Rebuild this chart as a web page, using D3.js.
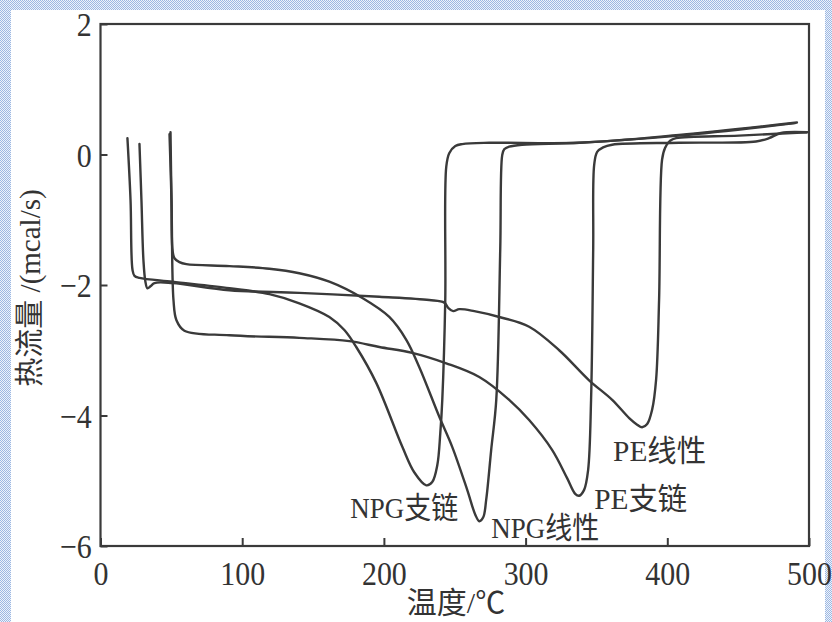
<!DOCTYPE html>
<html>
<head>
<meta charset="utf-8">
<script src="https://cdn.jsdelivr.net/npm/d3@7"></script>
<style>
  html, body { margin: 0; padding: 0; background: #fff; }
  svg { display: block; }
</style>
</head>
<body>
<svg id="chart" width="832" height="622"></svg>
<script>
// DSC curves: heat flow (mcal/s) against temperature (°C) for four samples

const xTicks = [0, 100, 200, 300, 400, 500];
const yTicks = [2, 0, -2, -4, -6];
const xTitle = "温度/℃";
const yTitle = "热流量 /(mcal/s)";

const seriesNames = ["NPG支链", "NPG线性", "PE支链", "PE线性"];

// NPG支链
const tempNpgBranched = [19.0, 21.2, 22.6, 24.0, 27.5, 50.8, 91.0, 119.2, 140.3, 161.5, 172.1, 180.5, 194.6, 213.0, 221.4, 229.9, 234.1, 237.7, 239.8, 241.2, 243.3, 244.0, 246.1, 250.4, 255.3, 274.3, 337.8, 408.3, 491.5];
const flowNpgBranched = [0.25, -0.70, -1.77, -1.86, -1.89, -1.95, -2.05, -2.14, -2.28, -2.49, -2.69, -2.95, -3.50, -4.48, -4.87, -5.07, -5.02, -4.76, -4.27, -3.76, -2.23, -0.19, 0.02, 0.13, 0.16, 0.18, 0.18, 0.30, 0.49];

// NPG线性
const tempNpgLinear = [49.4, 50.1, 50.8, 52.2, 55.7, 60.6, 91.0, 119.2, 140.3, 161.5, 184.8, 203.8, 215.8, 225.0, 239.1, 248.2, 258.8, 264.5, 267.3, 270.1, 272.2, 275.7, 279.3, 282.1, 283.5, 284.9, 288.4, 297.6, 337.8, 408.3, 490.1];
const flowNpgLinear = [0.34, -0.70, -1.46, -1.59, -1.65, -1.68, -1.71, -1.75, -1.82, -1.95, -2.20, -2.49, -2.84, -3.26, -4.02, -4.48, -5.14, -5.52, -5.62, -5.56, -5.29, -4.53, -3.76, -1.46, -0.01, 0.08, 0.12, 0.15, 0.18, 0.29, 0.48];

// PE支链
const tempPeBranched = [48.7, 50.1, 51.5, 53.6, 59.2, 91.0, 140.3, 175.6, 196.8, 220.0, 244.0, 267.3, 288.4, 302.5, 318.8, 329.3, 335.0, 337.8, 341.3, 344.1, 346.2, 347.7, 348.4, 350.5, 354.7, 361.1, 408.3, 462.6, 471.8, 480.3, 498.6];
const flowPeBranched = [0.31, -0.70, -2.23, -2.54, -2.70, -2.77, -2.81, -2.86, -2.95, -3.04, -3.20, -3.41, -3.76, -4.07, -4.53, -4.96, -5.20, -5.23, -5.14, -4.84, -3.76, -1.46, -0.16, 0.04, 0.11, 0.15, 0.18, 0.20, 0.25, 0.33, 0.34];

// PE线性
const tempPeLinear = [27.5, 28.9, 30.3, 31.7, 33.1, 35.3, 38.1, 50.8, 91.0, 140.3, 196.8, 232.0, 242.6, 245.4, 248.9, 253.2, 263.8, 281.4, 302.5, 323.7, 344.8, 361.1, 373.1, 378.7, 382.2, 385.8, 389.3, 392.1, 394.2, 396.3, 398.4, 402.0, 406.2, 450.6, 498.6];
const flowPeLinear = [0.16, -0.70, -1.62, -1.95, -2.05, -2.02, -1.97, -1.97, -2.08, -2.12, -2.18, -2.23, -2.27, -2.35, -2.40, -2.37, -2.40, -2.49, -2.64, -3.00, -3.46, -3.76, -4.04, -4.14, -4.18, -4.13, -3.91, -3.45, -2.23, -0.08, 0.10, 0.21, 0.25, 0.29, 0.34];

const seriesTemps = [tempNpgBranched, tempNpgLinear, tempPeBranched, tempPeLinear];
const seriesFlows = [flowNpgBranched, flowNpgLinear, flowPeBranched, flowPeLinear];

const W = 832, H = 622;
const svg = d3.select("#chart");

// dotted light-blue page border
const defs = svg.append("defs");
const pat = defs.append("pattern")
  .attr("id", "dots").attr("width", 2).attr("height", 2)
  .attr("patternUnits", "userSpaceOnUse");
pat.append("rect").attr("width", 2).attr("height", 2).attr("fill", "#eef3fb");
pat.append("rect").attr("width", 1).attr("height", 1).attr("fill", "#9db8e2");
pat.append("rect").attr("x", 1).attr("y", 1).attr("width", 1).attr("height", 1).attr("fill", "#9db8e2");
svg.append("rect").attr("width", W).attr("height", H).attr("fill", "url(#dots)");
svg.append("rect").attr("x", 11).attr("y", 10).attr("width", 814).attr("height", H - 10).attr("fill", "#fff");

const x = d3.scaleLinear().domain([0, 500]).range([100.5, 809]);
const y = d3.scaleLinear().domain([-6, 2]).range([546, 24]);

const ink = "#3a3a3a";
const serif = "'Liberation Serif', 'Noto Sans CJK SC', serif";

// axes with inward ticks
const gx = svg.append("g")
  .attr("transform", `translate(0,${y(-6)})`)
  .call(d3.axisBottom(x).tickValues(xTicks).tickSize(-8).tickPadding(20).tickFormat(d3.format("d")));
const gy = svg.append("g")
  .attr("transform", `translate(${x(0)},0)`)
  .call(d3.axisLeft(y).tickValues(yTicks).tickSize(-7).tickPadding(10));

[gx, gy].forEach(g => {
  g.select(".domain").remove();
  g.selectAll(".tick line").attr("stroke", ink).attr("stroke-width", 2);
  g.selectAll(".tick text")
    .attr("fill", "#333")
    .attr("transform", "scale(0.88,1)")
    .style("font-family", serif)
    .style("font-size", "34px");
});
gx.selectAll(".tick text").attr("dy", "0.55em");
gy.selectAll(".tick text").attr("dy", "0.34em");

// frame
svg.append("rect")
  .attr("x", x(0)).attr("y", y(2))
  .attr("width", x(500) - x(0)).attr("height", y(-6) - y(2))
  .attr("fill", "none").attr("stroke", ink).attr("stroke-width", 2.2);

// curves
const line = d3.line()
  .x(d => x(d[0])).y(d => y(d[1]))
  .curve(d3.curveCatmullRom.alpha(0.5));

seriesNames.forEach((name, i) => {
  const pts = seriesTemps[i].map((t, k) => [t, seriesFlows[i][k]]);
  svg.append("path")
    .datum(pts)
    .attr("class", "series")
    .attr("data-name", name)
    .attr("d", line)
    .attr("fill", "none")
    .attr("stroke", ink)
    .attr("stroke-width", 2.4)
    .attr("stroke-linejoin", "round")
    .attr("stroke-linecap", "round");
});

// curve labels, placed relative to each curve's minimum
const labelOffset = [[-76, 33], [12, 17], [15, 13], [-29, 34]];
const labelWidth = [108, 108, 93, 93];
seriesNames.forEach((name, i) => {
  const flows = seriesFlows[i];
  const k = d3.minIndex(flows);
  svg.append("text")
    .attr("x", x(seriesTemps[i][k]) + labelOffset[i][0])
    .attr("y", y(flows[k]) + labelOffset[i][1])
    .attr("textLength", labelWidth[i]).attr("lengthAdjust", "spacingAndGlyphs")
    .attr("fill", "#333")
    .style("font-family", serif).style("font-size", "30px")
    .text(name);
});

// axis titles
svg.append("text")
  .attr("x", 456).attr("y", 613)
  .attr("text-anchor", "middle")
  .attr("fill", "#333")
  .style("font-family", serif).style("font-size", "30px")
  .text(xTitle);

svg.append("text")
  .attr("transform", `translate(40,${(y(2) + y(-6)) / 2 + 3}) rotate(-90)`)
  .attr("text-anchor", "middle")
  .attr("fill", "#333")
  .style("font-family", serif).style("font-size", "29px")
  .text(yTitle);
</script>
</body>
</html>
